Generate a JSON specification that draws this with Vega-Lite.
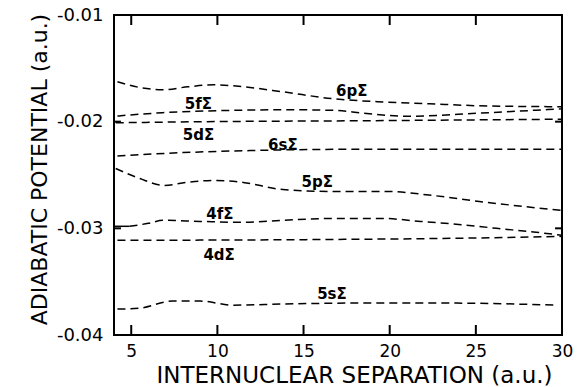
{
  "$schema": "https://vega.github.io/schema/vega-lite/v6.json",
  "width": 448,
  "height": 320,
  "autosize": {"type": "none"},
  "padding": {"left": 114, "top": 15, "right": 20, "bottom": 52},
  "background": "white",
  "config": {
    "view": {"stroke": "black", "strokeWidth": 2},
    "font": "DejaVu Sans",
    "axis": {"grid": false, "domain": false, "ticks": false, "labelColor": "black", "titleColor": "black", "labelFont": "DejaVu Sans", "titleFont": "DejaVu Sans", "titleFontWeight": "normal"}
  },
  "datasets": {
    "curves": [
      {"curve": "6p", "x": 4.2, "y": -0.01626}, {"curve": "6p", "x": 5.5, "y": -0.0168}, {"curve": "6p", "x": 6.8, "y": -0.01701}, {"curve": "6p", "x": 8.3, "y": -0.01673}, {"curve": "6p", "x": 9.8, "y": -0.01654}, {"curve": "6p", "x": 11.5, "y": -0.01673}, {"curve": "6p", "x": 13.8, "y": -0.0172}, {"curve": "6p", "x": 16.7, "y": -0.01785}, {"curve": "6p", "x": 19.3, "y": -0.01813}, {"curve": "6p", "x": 22.3, "y": -0.01832}, {"curve": "6p", "x": 25.0, "y": -0.0185}, {"curve": "6p", "x": 30.0, "y": -0.0186},
      {"curve": "5f", "x": 4.2, "y": -0.01947}, {"curve": "5f", "x": 6.8, "y": -0.01916}, {"curve": "5f", "x": 10.9, "y": -0.01894}, {"curve": "5f", "x": 13.8, "y": -0.01888}, {"curve": "5f", "x": 16.7, "y": -0.01894}, {"curve": "5f", "x": 18.5, "y": -0.0192}, {"curve": "5f", "x": 21.0, "y": -0.0195}, {"curve": "5f", "x": 25.2, "y": -0.0192}, {"curve": "5f", "x": 30.0, "y": -0.01879},
      {"curve": "5d", "x": 4.1, "y": -0.0201}, {"curve": "5d", "x": 10.9, "y": -0.01998}, {"curve": "5d", "x": 17.7, "y": -0.01992}, {"curve": "5d", "x": 23.5, "y": -0.01985}, {"curve": "5d", "x": 30.0, "y": -0.01977},
      {"curve": "6s", "x": 4.2, "y": -0.02321}, {"curve": "6s", "x": 8.0, "y": -0.0229}, {"curve": "6s", "x": 11.9, "y": -0.02271}, {"curve": "6s", "x": 17.7, "y": -0.02259}, {"curve": "6s", "x": 30.0, "y": -0.02259},
      {"curve": "5p", "x": 4.1, "y": -0.02439}, {"curve": "5p", "x": 5.5, "y": -0.02533}, {"curve": "5p", "x": 6.9, "y": -0.02598}, {"curve": "5p", "x": 8.2, "y": -0.0257}, {"curve": "5p", "x": 9.8, "y": -0.02551}, {"curve": "5p", "x": 11.5, "y": -0.0257}, {"curve": "5p", "x": 13.8, "y": -0.02636}, {"curve": "5p", "x": 16.7, "y": -0.02654}, {"curve": "5p", "x": 19.8, "y": -0.02654}, {"curve": "5p", "x": 22.5, "y": -0.02692}, {"curve": "5p", "x": 25.2, "y": -0.02748}, {"curve": "5p", "x": 27.7, "y": -0.02794}, {"curve": "5p", "x": 30.0, "y": -0.02832},
      {"curve": "4f", "x": 4.9, "y": -0.02981}, {"curve": "4f", "x": 6.0, "y": -0.02953}, {"curve": "4f", "x": 6.84, "y": -0.02925}, {"curve": "4f", "x": 9.0, "y": -0.02935}, {"curve": "4f", "x": 11.5, "y": -0.02944}, {"curve": "4f", "x": 13.8, "y": -0.02925}, {"curve": "4f", "x": 16.7, "y": -0.02907}, {"curve": "4f", "x": 19.5, "y": -0.02907}, {"curve": "4f", "x": 21.8, "y": -0.02935}, {"curve": "4f", "x": 24.0, "y": -0.02963}, {"curve": "4f", "x": 26.2, "y": -0.03}, {"curve": "4f", "x": 28.5, "y": -0.03037}, {"curve": "4f", "x": 30.0, "y": -0.03065},
      {"curve": "4d", "x": 4.2, "y": -0.03112}, {"curve": "4d", "x": 10.0, "y": -0.0311}, {"curve": "4d", "x": 17.7, "y": -0.03103}, {"curve": "4d", "x": 24.0, "y": -0.03093}, {"curve": "4d", "x": 30.0, "y": -0.03075},
      {"curve": "5s", "x": 4.2, "y": -0.03757}, {"curve": "5s", "x": 5.5, "y": -0.03748}, {"curve": "5s", "x": 7.4, "y": -0.03682}, {"curve": "5s", "x": 9.0, "y": -0.03682}, {"curve": "5s", "x": 10.9, "y": -0.0372}, {"curve": "5s", "x": 13.8, "y": -0.0371}, {"curve": "5s", "x": 17.7, "y": -0.03701}, {"curve": "5s", "x": 23.5, "y": -0.03701}, {"curve": "5s", "x": 29.6, "y": -0.0372}
    ],
    "solid": [
      {"curve": "4f", "x": 4.0, "y": -0.02981}, {"curve": "4f", "x": 4.9, "y": -0.02981}
    ],
    "xticks": [{"v": 5}, {"v": 10}, {"v": 15}, {"v": 20}, {"v": 25}, {"v": 30}],
    "yticks": [{"v": -0.04}, {"v": -0.03}, {"v": -0.02}, {"v": -0.01}],
    "labels": [
      {"label": "6pΣ", "x": 17.8, "y": -0.0171},
      {"label": "5fΣ", "x": 8.9, "y": -0.01832},
      {"label": "5dΣ", "x": 8.9, "y": -0.02121},
      {"label": "6sΣ", "x": 13.8, "y": -0.02215},
      {"label": "5pΣ", "x": 15.8, "y": -0.0257},
      {"label": "4fΣ", "x": 10.15, "y": -0.02869},
      {"label": "4dΣ", "x": 10.1, "y": -0.03252},
      {"label": "5sΣ", "x": 16.65, "y": -0.03617}
    ]
  },
  "layer": [
    {
      "data": {"name": "curves"},
      "mark": {"type": "line", "color": "black", "strokeWidth": 1.5, "strokeDash": [8, 5], "interpolate": "monotone"},
      "encoding": {
        "x": {"field": "x", "type": "quantitative", "scale": {"domain": [4, 30], "nice": false, "zero": false},
          "axis": {"orient": "bottom", "values": [5, 10, 15, 20, 25, 30], "labelPadding": 8, "labelFontSize": 17, "labelFlush": false,
            "title": "INTERNUCLEAR SEPARATION (a.u.)", "titleFontSize": 23, "titleX": 240, "titleY": 47, "titleBaseline": "alphabetic", "titleAnchor": "middle", "titleAlign": "center"}},
        "y": {"field": "y", "type": "quantitative", "scale": {"domain": [-0.04, -0.01], "nice": false, "zero": false},
          "axis": {"orient": "left", "values": [-0.04, -0.03, -0.02, -0.01], "labelPadding": 11, "labelFontSize": 18, "labelFlush": false,
            "labelExpr": "'-' + format(abs(datum.value), '.2f')",
            "title": "ADIABATIC POTENTIAL (a.u.)", "titleFontSize": 22, "titleX": -68, "titleY": 154, "titleBaseline": "alphabetic", "titleAngle": -90, "titleAlign": "center"}},
        "detail": {"field": "curve"},
        "order": {"field": "x", "type": "quantitative"}
      }
    },
    {
      "data": {"name": "solid"},
      "mark": {"type": "line", "color": "black", "strokeWidth": 1.5},
      "encoding": {
        "x": {"field": "x", "type": "quantitative"},
        "y": {"field": "y", "type": "quantitative"}
      }
    },
    {
      "data": {"name": "xticks"},
      "mark": {"type": "tick", "orient": "vertical", "color": "black", "opacity": 1, "size": 10, "thickness": 2},
      "encoding": {
        "x": {"field": "v", "type": "quantitative"},
        "y": {"datum": -0.03953, "type": "quantitative"}
      }
    },
    {
      "data": {"name": "xticks"},
      "mark": {"type": "tick", "orient": "vertical", "color": "black", "opacity": 1, "size": 10, "thickness": 2},
      "encoding": {
        "x": {"field": "v", "type": "quantitative"},
        "y": {"datum": -0.01047, "type": "quantitative"}
      }
    },
    {
      "data": {"name": "yticks"},
      "mark": {"type": "tick", "orient": "horizontal", "color": "black", "opacity": 1, "size": 7, "thickness": 2},
      "encoding": {
        "y": {"field": "v", "type": "quantitative"},
        "x": {"datum": 4.2, "type": "quantitative"}
      }
    },
    {
      "data": {"name": "yticks"},
      "mark": {"type": "tick", "orient": "horizontal", "color": "black", "opacity": 1, "size": 7, "thickness": 2},
      "encoding": {
        "y": {"field": "v", "type": "quantitative"},
        "x": {"datum": 29.8, "type": "quantitative"}
      }
    },
    {
      "data": {"name": "labels"},
      "mark": {"type": "text", "color": "black", "font": "DejaVu Sans", "fontSize": 15, "fontWeight": "bold", "align": "center", "baseline": "middle"},
      "encoding": {
        "x": {"field": "x", "type": "quantitative"},
        "y": {"field": "y", "type": "quantitative"},
        "text": {"field": "label"}
      }
    }
  ]
}
